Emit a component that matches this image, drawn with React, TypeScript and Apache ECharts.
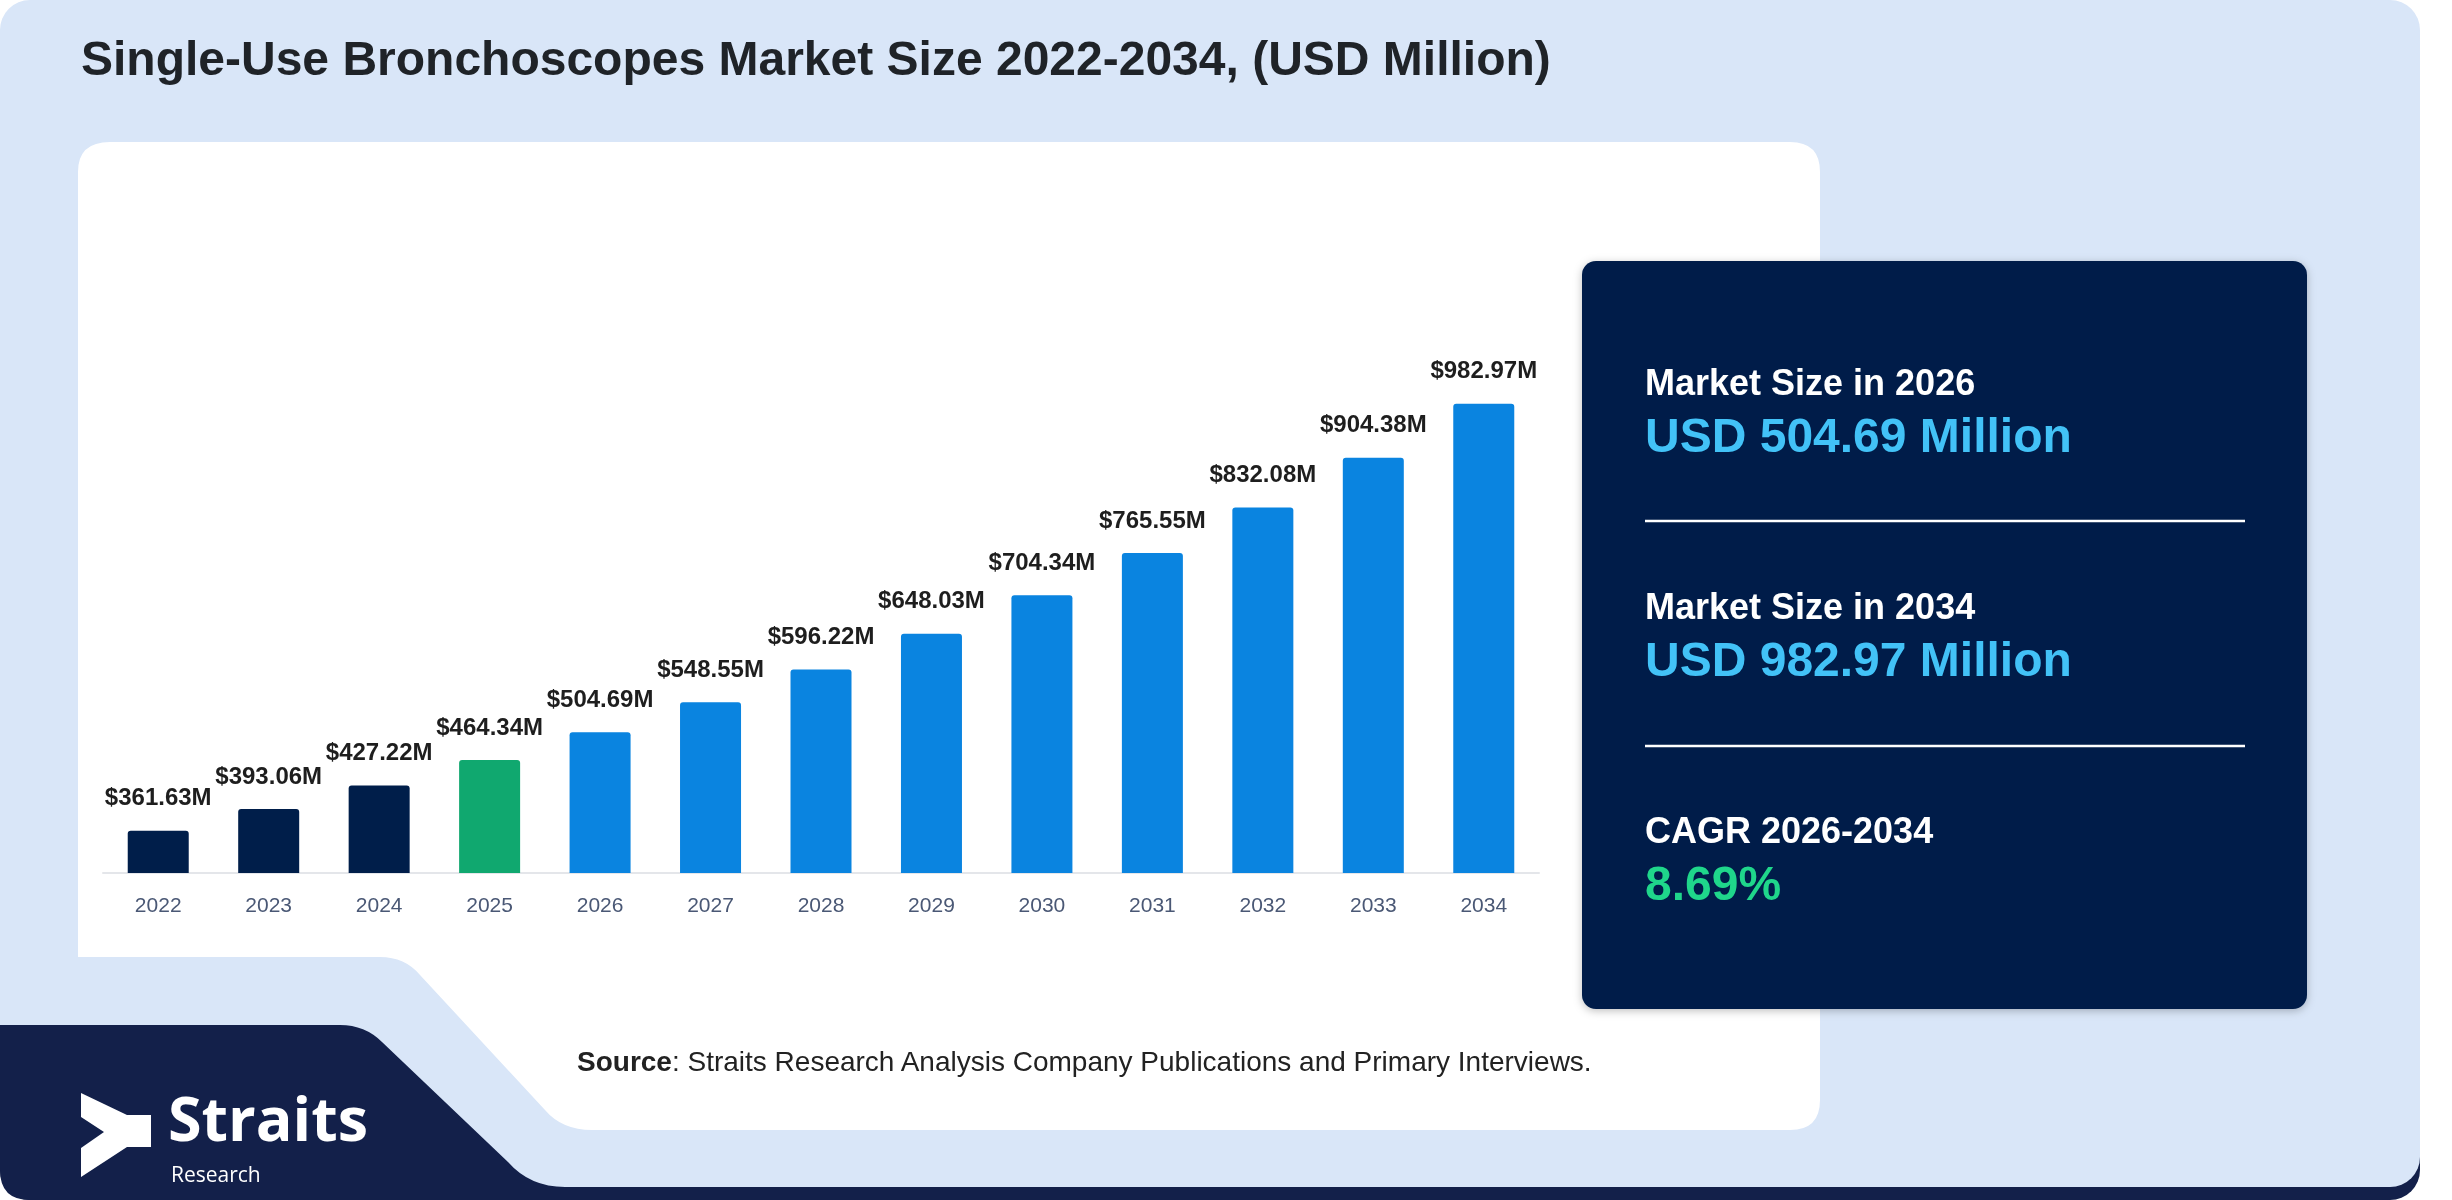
import React, { useEffect, useRef } from "react";
import * as echarts from "echarts";

// ---------- data ----------
const years = ["2022", "2023", "2024", "2025", "2026", "2027", "2028", "2029", "2030", "2031", "2032", "2033", "2034"];
const marketValues = [361.63, 393.06, 427.22, 464.34, 504.69, 548.55, 596.22, 648.03, 704.34, 765.55, 832.08, 904.38, 982.97];
const periodKind = ["hist", "hist", "hist", "base", "fc", "fc", "fc", "fc", "fc", "fc", "fc", "fc", "fc"];

const titleText = "Single-Use Bronchoscopes Market Size 2022-2034, (USD Million)";
const summaryLabels = ["Market Size in 2026", "Market Size in 2034", "CAGR 2026-2034"];
const summaryValues = ["USD 504.69 Million", "USD 982.97 Million", "8.69%"];
const sourceBold = "Source";
const sourceRest = ": Straits Research Analysis Company Publications and Primary Interviews.";
const logoWord = "Straits";
const logoSub = "Research";

// ---------- styles ----------
const W = 2452;
const H = 1200;
const FONT = '"Liberation Sans", Arial, sans-serif';
const LOGO_FONT = '"Open Sans", sans-serif';
const NAVY = "#001e4a";
const LOGO_NAVY = "#13204a";
const LIGHT = "#d9e6f8";
const kindColor: Record<string, string> = { hist: "#001e4a", base: "#10a86f", fc: "#0a84e0" };

const CARD_D =
  "M 110 142 L 1790 142 Q 1820 142 1820 172 L 1820 1100 Q 1820 1130 1790 1130 L 592 1130 Q 562 1130 545 1110 L 420 975 Q 405 957 380 957 L 78 957 L 78 172 Q 78 142 110 142 Z";
const LOGO_BG_D =
  "M 0 1025 L 340 1025 Q 365 1025 382 1042 L 508 1162 Q 530 1187 565 1187 L 620 1187 L 620 1200 L 30 1200 Q 0 1200 0 1170 Z";

export default function App() {
  const ref = useRef<HTMLDivElement>(null);

  useEffect(() => {
    if (!ref.current) return;
    echarts.graphic.registerShape("whiteCard", echarts.graphic.extendPath(CARD_D, {}));
    echarts.graphic.registerShape("logoBg", echarts.graphic.extendPath(LOGO_BG_D, {}));
    const chart = echarts.init(ref.current, null, { renderer: "svg", width: W, height: H });

    const baselines = [395, 452, 619, 676, 843, 900];
    const panelTexts: any[] = [];
    summaryLabels.forEach((lab, i) => {
      panelTexts.push({
        type: "text",
        x: 1645,
        y: baselines[i * 2] - 0.35 * 36,
        z: 20,
        style: { text: lab, fill: "#ffffff", fontFamily: FONT, fontWeight: "bold", fontSize: 36, verticalAlign: "middle" },
      });
      panelTexts.push({
        type: "text",
        x: 1645,
        y: baselines[i * 2 + 1] - 0.35 * 48,
        z: 20,
        style: {
          text: summaryValues[i],
          fill: i === 2 ? "#1fd68b" : "#42c2f7",
          fontFamily: FONT,
          fontWeight: "bold",
          fontSize: 48,
          verticalAlign: "middle",
        },
      });
    });

    const option: any = {
      animation: false,
      backgroundColor: "transparent",
      grid: { left: 103, right: W - 1539, top: 392, bottom: H - 873, containLabel: false },
      xAxis: {
        type: "category",
        z: 10,
        data: years,
        axisLine: { show: true, lineStyle: { color: "#e4e6ea", width: 2 } },
        axisTick: { show: false },
        axisLabel: { color: "#4a5875", fontFamily: FONT, fontSize: 21, margin: 21 },
      },
      yAxis: {
        type: "value",
        min: 300,
        max: 1000,
        show: false,
        splitLine: { show: false },
      },
      series: [
        {
          type: "bar",
          z: 12,
          barWidth: 61,
          data: marketValues.map((v, i) => ({ value: v, itemStyle: { color: kindColor[periodKind[i]] } })),
          itemStyle: { borderRadius: [3, 3, 0, 0] },
          label: {
            show: true,
            position: "top",
            distance: 22,
            color: "#1e1e1e",
            fontFamily: FONT,
            fontWeight: "bold",
            fontSize: 24,
            formatter: (p: any) => "$" + Number(p.value).toFixed(2) + "M",
          },
        },
      ],
      graphic: {
        elements: [
          { type: "rect", z: 0, shape: { x: 0, y: 1100, width: 2420, height: 100, r: 30 }, style: { fill: LOGO_NAVY } },
          { type: "rect", z: 0, shape: { x: 0, y: 0, width: 2420, height: 1187, r: 30 }, style: { fill: LIGHT } },
          { type: "whiteCard", z: 1, x: 0, y: 0, style: { fill: "#ffffff" } },
          { type: "logoBg", z: 1, x: 0, y: 0, style: { fill: LOGO_NAVY } },
          {
            type: "text",
            z: 20,
            x: 81,
            y: 75 - 0.35 * 48,
            style: { text: titleText, fill: "#1f2328", fontFamily: FONT, fontWeight: "bold", fontSize: 48, verticalAlign: "middle" },
          },
          {
            type: "rect",
            z: 3,
            shape: { x: 1582, y: 261, width: 725, height: 748, r: 14 },
            style: { fill: NAVY, shadowBlur: 8, shadowColor: "rgba(0,0,0,0.25)", shadowOffsetY: 2 },
          },
          { type: "line", z: 20, shape: { x1: 1645, y1: 521, x2: 2245, y2: 521 }, style: { stroke: "#ffffff", lineWidth: 2.5 } },
          { type: "line", z: 20, shape: { x1: 1645, y1: 746, x2: 2245, y2: 746 }, style: { stroke: "#ffffff", lineWidth: 2.5 } },
          ...panelTexts,
          {
            type: "text",
            z: 20,
            x: 577,
            y: 1071 - 0.35 * 28,
            style: {
              text: "{b|" + sourceBold + "}{r|" + sourceRest + "}",
              verticalAlign: "middle",
              rich: {
                b: { fontFamily: FONT, fontWeight: "bold", fontSize: 28, fill: "#222222" },
                r: { fontFamily: FONT, fontWeight: "normal", fontSize: 28, fill: "#222222" },
              },
            },
          },
          {
            type: "polygon",
            z: 20,
            shape: {
              points: [
                [81, 1093],
                [127, 1115],
                [151, 1115],
                [151, 1147],
                [127, 1147],
                [81, 1177],
                [81, 1148],
                [104, 1132],
                [81, 1117],
              ],
            },
            style: { fill: "#ffffff" },
          },
          {
            type: "text",
            z: 20,
            x: 168,
            y: 1141 - 0.39 * 61,
            style: {
              text: logoWord,
              fill: "#ffffff",
              fontFamily: LOGO_FONT,
              fontWeight: "bold",
              fontSize: 61,
              verticalAlign: "middle",
            },
          },
          {
            type: "text",
            z: 20,
            x: 171,
            y: 1182 - 0.39 * 21,
            style: {
              text: logoSub,
              fill: "#ffffff",
              fontFamily: LOGO_FONT,
              fontWeight: "normal",
              fontSize: 21,
              verticalAlign: "middle",
            },
          },
        ],
      },
    };

    chart.setOption(option);
    return () => chart.dispose();
  }, []);

  return <div ref={ref} style={{ position: "fixed", left: 0, top: 0, width: W, height: H }} />;
}
